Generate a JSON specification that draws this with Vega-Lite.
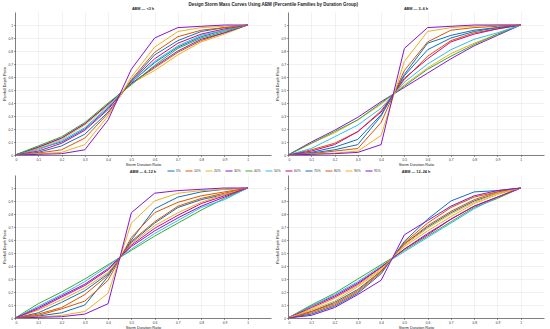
{
  "$schema": "https://vega.github.io/schema/vega-lite/v6.json",
  "background": "white",
  "padding": {"left": 2, "top": 1, "right": 2, "bottom": 1},
  "title": {"text": "Design Storm Mass Curves Using ABM (Percentile Families by Duration Group)", "fontSize": 4.5, "fontWeight": "bold", "font": "Liberation Sans", "anchor": "middle", "offset": 1, "color": "#222"},
  "config": {
    "font": "Liberation Sans",
    "view": {"stroke": null},
    "axis": {"labelFontSize": 3.3, "titleFontSize": 3.8, "titleFontWeight": "normal", "gridColor": "#e8e8e8", "gridWidth": 0.6, "domainColor": "#333", "domainWidth": 0.6, "tickColor": "#333", "tickSize": 1.5, "tickWidth": 0.5, "labelPadding": 1, "titlePadding": 1.5, "labelColor": "#333", "titleColor": "#222"}
  },
  "data": {"values": [
{"g":"ABM — <3 h","p":"5%","x":0,"y":0},{"g":"ABM — <3 h","p":"5%","x":0.1,"y":0.05},{"g":"ABM — <3 h","p":"5%","x":0.2,"y":0.10},{"g":"ABM — <3 h","p":"5%","x":0.3,"y":0.20},{"g":"ABM — <3 h","p":"5%","x":0.4,"y":0.36},{"g":"ABM — <3 h","p":"5%","x":0.5,"y":0.56},{"g":"ABM — <3 h","p":"5%","x":0.6,"y":0.71},{"g":"ABM — <3 h","p":"5%","x":0.7,"y":0.83},{"g":"ABM — <3 h","p":"5%","x":0.8,"y":0.91},{"g":"ABM — <3 h","p":"5%","x":0.9,"y":0.96},{"g":"ABM — <3 h","p":"5%","x":1,"y":1},
{"g":"ABM — <3 h","p":"10%","x":0,"y":0},{"g":"ABM — <3 h","p":"10%","x":0.1,"y":0.06},{"g":"ABM — <3 h","p":"10%","x":0.2,"y":0.13},{"g":"ABM — <3 h","p":"10%","x":0.3,"y":0.24},{"g":"ABM — <3 h","p":"10%","x":0.4,"y":0.39},{"g":"ABM — <3 h","p":"10%","x":0.5,"y":0.55},{"g":"ABM — <3 h","p":"10%","x":0.6,"y":0.67},{"g":"ABM — <3 h","p":"10%","x":0.7,"y":0.79},{"g":"ABM — <3 h","p":"10%","x":0.8,"y":0.88},{"g":"ABM — <3 h","p":"10%","x":0.9,"y":0.94},{"g":"ABM — <3 h","p":"10%","x":1,"y":1},
{"g":"ABM — <3 h","p":"20%","x":0,"y":0},{"g":"ABM — <3 h","p":"20%","x":0.1,"y":0.05},{"g":"ABM — <3 h","p":"20%","x":0.2,"y":0.12},{"g":"ABM — <3 h","p":"20%","x":0.3,"y":0.23},{"g":"ABM — <3 h","p":"20%","x":0.4,"y":0.38},{"g":"ABM — <3 h","p":"20%","x":0.5,"y":0.55},{"g":"ABM — <3 h","p":"20%","x":0.6,"y":0.65},{"g":"ABM — <3 h","p":"20%","x":0.7,"y":0.77},{"g":"ABM — <3 h","p":"20%","x":0.8,"y":0.87},{"g":"ABM — <3 h","p":"20%","x":0.9,"y":0.93},{"g":"ABM — <3 h","p":"20%","x":1,"y":1},
{"g":"ABM — <3 h","p":"30%","x":0,"y":0},{"g":"ABM — <3 h","p":"30%","x":0.1,"y":0.06},{"g":"ABM — <3 h","p":"30%","x":0.2,"y":0.13},{"g":"ABM — <3 h","p":"30%","x":0.3,"y":0.24},{"g":"ABM — <3 h","p":"30%","x":0.4,"y":0.39},{"g":"ABM — <3 h","p":"30%","x":0.5,"y":0.55},{"g":"ABM — <3 h","p":"30%","x":0.6,"y":0.68},{"g":"ABM — <3 h","p":"30%","x":0.7,"y":0.80},{"g":"ABM — <3 h","p":"30%","x":0.8,"y":0.89},{"g":"ABM — <3 h","p":"30%","x":0.9,"y":0.94},{"g":"ABM — <3 h","p":"30%","x":1,"y":1},
{"g":"ABM — <3 h","p":"40%","x":0,"y":0},{"g":"ABM — <3 h","p":"40%","x":0.1,"y":0.07},{"g":"ABM — <3 h","p":"40%","x":0.2,"y":0.14},{"g":"ABM — <3 h","p":"40%","x":0.3,"y":0.25},{"g":"ABM — <3 h","p":"40%","x":0.4,"y":0.40},{"g":"ABM — <3 h","p":"40%","x":0.5,"y":0.54},{"g":"ABM — <3 h","p":"40%","x":0.6,"y":0.69},{"g":"ABM — <3 h","p":"40%","x":0.7,"y":0.82},{"g":"ABM — <3 h","p":"40%","x":0.8,"y":0.90},{"g":"ABM — <3 h","p":"40%","x":0.9,"y":0.95},{"g":"ABM — <3 h","p":"40%","x":1,"y":1},
{"g":"ABM — <3 h","p":"50%","x":0,"y":0},{"g":"ABM — <3 h","p":"50%","x":0.1,"y":0.04},{"g":"ABM — <3 h","p":"50%","x":0.2,"y":0.11},{"g":"ABM — <3 h","p":"50%","x":0.3,"y":0.21},{"g":"ABM — <3 h","p":"50%","x":0.4,"y":0.37},{"g":"ABM — <3 h","p":"50%","x":0.5,"y":0.56},{"g":"ABM — <3 h","p":"50%","x":0.6,"y":0.72},{"g":"ABM — <3 h","p":"50%","x":0.7,"y":0.84},{"g":"ABM — <3 h","p":"50%","x":0.8,"y":0.92},{"g":"ABM — <3 h","p":"50%","x":0.9,"y":0.96},{"g":"ABM — <3 h","p":"50%","x":1,"y":1},
{"g":"ABM — <3 h","p":"60%","x":0,"y":0},{"g":"ABM — <3 h","p":"60%","x":0.1,"y":0.03},{"g":"ABM — <3 h","p":"60%","x":0.2,"y":0.09},{"g":"ABM — <3 h","p":"60%","x":0.3,"y":0.19},{"g":"ABM — <3 h","p":"60%","x":0.4,"y":0.35},{"g":"ABM — <3 h","p":"60%","x":0.5,"y":0.57},{"g":"ABM — <3 h","p":"60%","x":0.6,"y":0.74},{"g":"ABM — <3 h","p":"60%","x":0.7,"y":0.86},{"g":"ABM — <3 h","p":"60%","x":0.8,"y":0.93},{"g":"ABM — <3 h","p":"60%","x":0.9,"y":0.97},{"g":"ABM — <3 h","p":"60%","x":1,"y":1},
{"g":"ABM — <3 h","p":"70%","x":0,"y":0},{"g":"ABM — <3 h","p":"70%","x":0.1,"y":0.02},{"g":"ABM — <3 h","p":"70%","x":0.2,"y":0.07},{"g":"ABM — <3 h","p":"70%","x":0.3,"y":0.16},{"g":"ABM — <3 h","p":"70%","x":0.4,"y":0.33},{"g":"ABM — <3 h","p":"70%","x":0.5,"y":0.57},{"g":"ABM — <3 h","p":"70%","x":0.6,"y":0.77},{"g":"ABM — <3 h","p":"70%","x":0.7,"y":0.88},{"g":"ABM — <3 h","p":"70%","x":0.8,"y":0.95},{"g":"ABM — <3 h","p":"70%","x":0.9,"y":0.98},{"g":"ABM — <3 h","p":"70%","x":1,"y":1},
{"g":"ABM — <3 h","p":"80%","x":0,"y":0},{"g":"ABM — <3 h","p":"80%","x":0.1,"y":0.015},{"g":"ABM — <3 h","p":"80%","x":0.2,"y":0.04},{"g":"ABM — <3 h","p":"80%","x":0.3,"y":0.13},{"g":"ABM — <3 h","p":"80%","x":0.4,"y":0.32},{"g":"ABM — <3 h","p":"80%","x":0.5,"y":0.58},{"g":"ABM — <3 h","p":"80%","x":0.6,"y":0.79},{"g":"ABM — <3 h","p":"80%","x":0.7,"y":0.91},{"g":"ABM — <3 h","p":"80%","x":0.8,"y":0.96},{"g":"ABM — <3 h","p":"80%","x":0.9,"y":0.98},{"g":"ABM — <3 h","p":"80%","x":1,"y":1},
{"g":"ABM — <3 h","p":"90%","x":0,"y":0},{"g":"ABM — <3 h","p":"90%","x":0.1,"y":0.01},{"g":"ABM — <3 h","p":"90%","x":0.2,"y":0.02},{"g":"ABM — <3 h","p":"90%","x":0.3,"y":0.08},{"g":"ABM — <3 h","p":"90%","x":0.4,"y":0.30},{"g":"ABM — <3 h","p":"90%","x":0.5,"y":0.60},{"g":"ABM — <3 h","p":"90%","x":0.6,"y":0.83},{"g":"ABM — <3 h","p":"90%","x":0.7,"y":0.95},{"g":"ABM — <3 h","p":"90%","x":0.8,"y":0.98},{"g":"ABM — <3 h","p":"90%","x":0.9,"y":0.99},{"g":"ABM — <3 h","p":"90%","x":1,"y":1},
{"g":"ABM — <3 h","p":"95%","x":0,"y":0},{"g":"ABM — <3 h","p":"95%","x":0.1,"y":0.005},{"g":"ABM — <3 h","p":"95%","x":0.2,"y":0.01},{"g":"ABM — <3 h","p":"95%","x":0.3,"y":0.04},{"g":"ABM — <3 h","p":"95%","x":0.4,"y":0.27},{"g":"ABM — <3 h","p":"95%","x":0.5,"y":0.66},{"g":"ABM — <3 h","p":"95%","x":0.6,"y":0.90},{"g":"ABM — <3 h","p":"95%","x":0.7,"y":0.98},{"g":"ABM — <3 h","p":"95%","x":0.8,"y":0.99},{"g":"ABM — <3 h","p":"95%","x":0.9,"y":1},{"g":"ABM — <3 h","p":"95%","x":1,"y":1},

{"g":"ABM — 3–6 h","p":"5%","x":0,"y":0},{"g":"ABM — 3–6 h","p":"5%","x":0.1,"y":0.02},{"g":"ABM — 3–6 h","p":"5%","x":0.2,"y":0.06},{"g":"ABM — 3–6 h","p":"5%","x":0.3,"y":0.12},{"g":"ABM — 3–6 h","p":"5%","x":0.4,"y":0.31},{"g":"ABM — 3–6 h","p":"5%","x":0.5,"y":0.61},{"g":"ABM — 3–6 h","p":"5%","x":0.6,"y":0.81},{"g":"ABM — 3–6 h","p":"5%","x":0.7,"y":0.90},{"g":"ABM — 3–6 h","p":"5%","x":0.8,"y":0.95},{"g":"ABM — 3–6 h","p":"5%","x":0.9,"y":0.98},{"g":"ABM — 3–6 h","p":"5%","x":1,"y":1},
{"g":"ABM — 3–6 h","p":"10%","x":0,"y":0},{"g":"ABM — 3–6 h","p":"10%","x":0.1,"y":0.04},{"g":"ABM — 3–6 h","p":"10%","x":0.2,"y":0.09},{"g":"ABM — 3–6 h","p":"10%","x":0.3,"y":0.18},{"g":"ABM — 3–6 h","p":"10%","x":0.4,"y":0.34},{"g":"ABM — 3–6 h","p":"10%","x":0.5,"y":0.58},{"g":"ABM — 3–6 h","p":"10%","x":0.6,"y":0.76},{"g":"ABM — 3–6 h","p":"10%","x":0.7,"y":0.88},{"g":"ABM — 3–6 h","p":"10%","x":0.8,"y":0.94},{"g":"ABM — 3–6 h","p":"10%","x":0.9,"y":0.97},{"g":"ABM — 3–6 h","p":"10%","x":1,"y":1},
{"g":"ABM — 3–6 h","p":"20%","x":0,"y":0},{"g":"ABM — 3–6 h","p":"20%","x":0.1,"y":0.09},{"g":"ABM — 3–6 h","p":"20%","x":0.2,"y":0.17},{"g":"ABM — 3–6 h","p":"20%","x":0.3,"y":0.27},{"g":"ABM — 3–6 h","p":"20%","x":0.4,"y":0.39},{"g":"ABM — 3–6 h","p":"20%","x":0.5,"y":0.54},{"g":"ABM — 3–6 h","p":"20%","x":0.6,"y":0.67},{"g":"ABM — 3–6 h","p":"20%","x":0.7,"y":0.78},{"g":"ABM — 3–6 h","p":"20%","x":0.8,"y":0.86},{"g":"ABM — 3–6 h","p":"20%","x":0.9,"y":0.93},{"g":"ABM — 3–6 h","p":"20%","x":1,"y":1},
{"g":"ABM — 3–6 h","p":"30%","x":0,"y":0},{"g":"ABM — 3–6 h","p":"30%","x":0.1,"y":0.10},{"g":"ABM — 3–6 h","p":"30%","x":0.2,"y":0.19},{"g":"ABM — 3–6 h","p":"30%","x":0.3,"y":0.29},{"g":"ABM — 3–6 h","p":"30%","x":0.4,"y":0.41},{"g":"ABM — 3–6 h","p":"30%","x":0.5,"y":0.52},{"g":"ABM — 3–6 h","p":"30%","x":0.6,"y":0.63},{"g":"ABM — 3–6 h","p":"30%","x":0.7,"y":0.74},{"g":"ABM — 3–6 h","p":"30%","x":0.8,"y":0.84},{"g":"ABM — 3–6 h","p":"30%","x":0.9,"y":0.92},{"g":"ABM — 3–6 h","p":"30%","x":1,"y":1},
{"g":"ABM — 3–6 h","p":"40%","x":0,"y":0},{"g":"ABM — 3–6 h","p":"40%","x":0.1,"y":0.09},{"g":"ABM — 3–6 h","p":"40%","x":0.2,"y":0.18},{"g":"ABM — 3–6 h","p":"40%","x":0.3,"y":0.27},{"g":"ABM — 3–6 h","p":"40%","x":0.4,"y":0.40},{"g":"ABM — 3–6 h","p":"40%","x":0.5,"y":0.53},{"g":"ABM — 3–6 h","p":"40%","x":0.6,"y":0.66},{"g":"ABM — 3–6 h","p":"40%","x":0.7,"y":0.76},{"g":"ABM — 3–6 h","p":"40%","x":0.8,"y":0.85},{"g":"ABM — 3–6 h","p":"40%","x":0.9,"y":0.93},{"g":"ABM — 3–6 h","p":"40%","x":1,"y":1},
{"g":"ABM — 3–6 h","p":"50%","x":0,"y":0},{"g":"ABM — 3–6 h","p":"50%","x":0.1,"y":0.05},{"g":"ABM — 3–6 h","p":"50%","x":0.2,"y":0.14},{"g":"ABM — 3–6 h","p":"50%","x":0.3,"y":0.23},{"g":"ABM — 3–6 h","p":"50%","x":0.4,"y":0.36},{"g":"ABM — 3–6 h","p":"50%","x":0.5,"y":0.56},{"g":"ABM — 3–6 h","p":"50%","x":0.6,"y":0.70},{"g":"ABM — 3–6 h","p":"50%","x":0.7,"y":0.81},{"g":"ABM — 3–6 h","p":"50%","x":0.8,"y":0.89},{"g":"ABM — 3–6 h","p":"50%","x":0.9,"y":0.94},{"g":"ABM — 3–6 h","p":"50%","x":1,"y":1},
{"g":"ABM — 3–6 h","p":"60%","x":0,"y":0},{"g":"ABM — 3–6 h","p":"60%","x":0.1,"y":0.03},{"g":"ABM — 3–6 h","p":"60%","x":0.2,"y":0.08},{"g":"ABM — 3–6 h","p":"60%","x":0.3,"y":0.18},{"g":"ABM — 3–6 h","p":"60%","x":0.4,"y":0.33},{"g":"ABM — 3–6 h","p":"60%","x":0.5,"y":0.59},{"g":"ABM — 3–6 h","p":"60%","x":0.6,"y":0.74},{"g":"ABM — 3–6 h","p":"60%","x":0.7,"y":0.87},{"g":"ABM — 3–6 h","p":"60%","x":0.8,"y":0.93},{"g":"ABM — 3–6 h","p":"60%","x":0.9,"y":0.97},{"g":"ABM — 3–6 h","p":"60%","x":1,"y":1},
{"g":"ABM — 3–6 h","p":"70%","x":0,"y":0},{"g":"ABM — 3–6 h","p":"70%","x":0.1,"y":0.015},{"g":"ABM — 3–6 h","p":"70%","x":0.2,"y":0.04},{"g":"ABM — 3–6 h","p":"70%","x":0.3,"y":0.08},{"g":"ABM — 3–6 h","p":"70%","x":0.4,"y":0.30},{"g":"ABM — 3–6 h","p":"70%","x":0.5,"y":0.62},{"g":"ABM — 3–6 h","p":"70%","x":0.6,"y":0.86},{"g":"ABM — 3–6 h","p":"70%","x":0.7,"y":0.92},{"g":"ABM — 3–6 h","p":"70%","x":0.8,"y":0.96},{"g":"ABM — 3–6 h","p":"70%","x":0.9,"y":0.98},{"g":"ABM — 3–6 h","p":"70%","x":1,"y":1},
{"g":"ABM — 3–6 h","p":"80%","x":0,"y":0},{"g":"ABM — 3–6 h","p":"80%","x":0.1,"y":0.01},{"g":"ABM — 3–6 h","p":"80%","x":0.2,"y":0.03},{"g":"ABM — 3–6 h","p":"80%","x":0.3,"y":0.05},{"g":"ABM — 3–6 h","p":"80%","x":0.4,"y":0.25},{"g":"ABM — 3–6 h","p":"80%","x":0.5,"y":0.65},{"g":"ABM — 3–6 h","p":"80%","x":0.6,"y":0.87},{"g":"ABM — 3–6 h","p":"80%","x":0.7,"y":0.96},{"g":"ABM — 3–6 h","p":"80%","x":0.8,"y":0.98},{"g":"ABM — 3–6 h","p":"80%","x":0.9,"y":0.99},{"g":"ABM — 3–6 h","p":"80%","x":1,"y":1},
{"g":"ABM — 3–6 h","p":"90%","x":0,"y":0},{"g":"ABM — 3–6 h","p":"90%","x":0.1,"y":0.008},{"g":"ABM — 3–6 h","p":"90%","x":0.2,"y":0.015},{"g":"ABM — 3–6 h","p":"90%","x":0.3,"y":0.03},{"g":"ABM — 3–6 h","p":"90%","x":0.4,"y":0.15},{"g":"ABM — 3–6 h","p":"90%","x":0.5,"y":0.72},{"g":"ABM — 3–6 h","p":"90%","x":0.6,"y":0.95},{"g":"ABM — 3–6 h","p":"90%","x":0.7,"y":0.98},{"g":"ABM — 3–6 h","p":"90%","x":0.8,"y":0.99},{"g":"ABM — 3–6 h","p":"90%","x":0.9,"y":1},{"g":"ABM — 3–6 h","p":"90%","x":1,"y":1},
{"g":"ABM — 3–6 h","p":"95%","x":0,"y":0},{"g":"ABM — 3–6 h","p":"95%","x":0.1,"y":0.005},{"g":"ABM — 3–6 h","p":"95%","x":0.2,"y":0.01},{"g":"ABM — 3–6 h","p":"95%","x":0.3,"y":0.02},{"g":"ABM — 3–6 h","p":"95%","x":0.4,"y":0.08},{"g":"ABM — 3–6 h","p":"95%","x":0.5,"y":0.82},{"g":"ABM — 3–6 h","p":"95%","x":0.6,"y":0.98},{"g":"ABM — 3–6 h","p":"95%","x":0.7,"y":0.99},{"g":"ABM — 3–6 h","p":"95%","x":0.8,"y":1},{"g":"ABM — 3–6 h","p":"95%","x":0.9,"y":1},{"g":"ABM — 3–6 h","p":"95%","x":1,"y":1},

{"g":"ABM — 6–12 h","p":"5%","x":0,"y":0},{"g":"ABM — 6–12 h","p":"5%","x":0.1,"y":0.04},{"g":"ABM — 6–12 h","p":"5%","x":0.2,"y":0.12},{"g":"ABM — 6–12 h","p":"5%","x":0.3,"y":0.21},{"g":"ABM — 6–12 h","p":"5%","x":0.4,"y":0.34},{"g":"ABM — 6–12 h","p":"5%","x":0.5,"y":0.58},{"g":"ABM — 6–12 h","p":"5%","x":0.6,"y":0.73},{"g":"ABM — 6–12 h","p":"5%","x":0.7,"y":0.85},{"g":"ABM — 6–12 h","p":"5%","x":0.8,"y":0.91},{"g":"ABM — 6–12 h","p":"5%","x":0.9,"y":0.95},{"g":"ABM — 6–12 h","p":"5%","x":1,"y":1},
{"g":"ABM — 6–12 h","p":"10%","x":0,"y":0},{"g":"ABM — 6–12 h","p":"10%","x":0.1,"y":0.03},{"g":"ABM — 6–12 h","p":"10%","x":0.2,"y":0.08},{"g":"ABM — 6–12 h","p":"10%","x":0.3,"y":0.18},{"g":"ABM — 6–12 h","p":"10%","x":0.4,"y":0.33},{"g":"ABM — 6–12 h","p":"10%","x":0.5,"y":0.59},{"g":"ABM — 6–12 h","p":"10%","x":0.6,"y":0.74},{"g":"ABM — 6–12 h","p":"10%","x":0.7,"y":0.86},{"g":"ABM — 6–12 h","p":"10%","x":0.8,"y":0.92},{"g":"ABM — 6–12 h","p":"10%","x":0.9,"y":0.96},{"g":"ABM — 6–12 h","p":"10%","x":1,"y":1},
{"g":"ABM — 6–12 h","p":"20%","x":0,"y":0},{"g":"ABM — 6–12 h","p":"20%","x":0.1,"y":0.06},{"g":"ABM — 6–12 h","p":"20%","x":0.2,"y":0.14},{"g":"ABM — 6–12 h","p":"20%","x":0.3,"y":0.23},{"g":"ABM — 6–12 h","p":"20%","x":0.4,"y":0.35},{"g":"ABM — 6–12 h","p":"20%","x":0.5,"y":0.57},{"g":"ABM — 6–12 h","p":"20%","x":0.6,"y":0.71},{"g":"ABM — 6–12 h","p":"20%","x":0.7,"y":0.81},{"g":"ABM — 6–12 h","p":"20%","x":0.8,"y":0.89},{"g":"ABM — 6–12 h","p":"20%","x":0.9,"y":0.95},{"g":"ABM — 6–12 h","p":"20%","x":1,"y":1},
{"g":"ABM — 6–12 h","p":"30%","x":0,"y":0},{"g":"ABM — 6–12 h","p":"30%","x":0.1,"y":0.08},{"g":"ABM — 6–12 h","p":"30%","x":0.2,"y":0.17},{"g":"ABM — 6–12 h","p":"30%","x":0.3,"y":0.26},{"g":"ABM — 6–12 h","p":"30%","x":0.4,"y":0.38},{"g":"ABM — 6–12 h","p":"30%","x":0.5,"y":0.55},{"g":"ABM — 6–12 h","p":"30%","x":0.6,"y":0.67},{"g":"ABM — 6–12 h","p":"30%","x":0.7,"y":0.77},{"g":"ABM — 6–12 h","p":"30%","x":0.8,"y":0.86},{"g":"ABM — 6–12 h","p":"30%","x":0.9,"y":0.93},{"g":"ABM — 6–12 h","p":"30%","x":1,"y":1},
{"g":"ABM — 6–12 h","p":"40%","x":0,"y":0},{"g":"ABM — 6–12 h","p":"40%","x":0.1,"y":0.11},{"g":"ABM — 6–12 h","p":"40%","x":0.2,"y":0.20},{"g":"ABM — 6–12 h","p":"40%","x":0.3,"y":0.30},{"g":"ABM — 6–12 h","p":"40%","x":0.4,"y":0.41},{"g":"ABM — 6–12 h","p":"40%","x":0.5,"y":0.52},{"g":"ABM — 6–12 h","p":"40%","x":0.6,"y":0.63},{"g":"ABM — 6–12 h","p":"40%","x":0.7,"y":0.73},{"g":"ABM — 6–12 h","p":"40%","x":0.8,"y":0.83},{"g":"ABM — 6–12 h","p":"40%","x":0.9,"y":0.92},{"g":"ABM — 6–12 h","p":"40%","x":1,"y":1},
{"g":"ABM — 6–12 h","p":"50%","x":0,"y":0},{"g":"ABM — 6–12 h","p":"50%","x":0.1,"y":0.09},{"g":"ABM — 6–12 h","p":"50%","x":0.2,"y":0.18},{"g":"ABM — 6–12 h","p":"50%","x":0.3,"y":0.28},{"g":"ABM — 6–12 h","p":"50%","x":0.4,"y":0.40},{"g":"ABM — 6–12 h","p":"50%","x":0.5,"y":0.53},{"g":"ABM — 6–12 h","p":"50%","x":0.6,"y":0.65},{"g":"ABM — 6–12 h","p":"50%","x":0.7,"y":0.75},{"g":"ABM — 6–12 h","p":"50%","x":0.8,"y":0.85},{"g":"ABM — 6–12 h","p":"50%","x":0.9,"y":0.91},{"g":"ABM — 6–12 h","p":"50%","x":1,"y":1},
{"g":"ABM — 6–12 h","p":"60%","x":0,"y":0},{"g":"ABM — 6–12 h","p":"60%","x":0.1,"y":0.07},{"g":"ABM — 6–12 h","p":"60%","x":0.2,"y":0.16},{"g":"ABM — 6–12 h","p":"60%","x":0.3,"y":0.25},{"g":"ABM — 6–12 h","p":"60%","x":0.4,"y":0.37},{"g":"ABM — 6–12 h","p":"60%","x":0.5,"y":0.56},{"g":"ABM — 6–12 h","p":"60%","x":0.6,"y":0.69},{"g":"ABM — 6–12 h","p":"60%","x":0.7,"y":0.79},{"g":"ABM — 6–12 h","p":"60%","x":0.8,"y":0.88},{"g":"ABM — 6–12 h","p":"60%","x":0.9,"y":0.94},{"g":"ABM — 6–12 h","p":"60%","x":1,"y":1},
{"g":"ABM — 6–12 h","p":"70%","x":0,"y":0},{"g":"ABM — 6–12 h","p":"70%","x":0.1,"y":0.015},{"g":"ABM — 6–12 h","p":"70%","x":0.2,"y":0.04},{"g":"ABM — 6–12 h","p":"70%","x":0.3,"y":0.10},{"g":"ABM — 6–12 h","p":"70%","x":0.4,"y":0.32},{"g":"ABM — 6–12 h","p":"70%","x":0.5,"y":0.60},{"g":"ABM — 6–12 h","p":"70%","x":0.6,"y":0.84},{"g":"ABM — 6–12 h","p":"70%","x":0.7,"y":0.93},{"g":"ABM — 6–12 h","p":"70%","x":0.8,"y":0.97},{"g":"ABM — 6–12 h","p":"70%","x":0.9,"y":0.99},{"g":"ABM — 6–12 h","p":"70%","x":1,"y":1},
{"g":"ABM — 6–12 h","p":"80%","x":0,"y":0},{"g":"ABM — 6–12 h","p":"80%","x":0.1,"y":0.02},{"g":"ABM — 6–12 h","p":"80%","x":0.2,"y":0.07},{"g":"ABM — 6–12 h","p":"80%","x":0.3,"y":0.13},{"g":"ABM — 6–12 h","p":"80%","x":0.4,"y":0.29},{"g":"ABM — 6–12 h","p":"80%","x":0.5,"y":0.62},{"g":"ABM — 6–12 h","p":"80%","x":0.6,"y":0.81},{"g":"ABM — 6–12 h","p":"80%","x":0.7,"y":0.89},{"g":"ABM — 6–12 h","p":"80%","x":0.8,"y":0.94},{"g":"ABM — 6–12 h","p":"80%","x":0.9,"y":0.97},{"g":"ABM — 6–12 h","p":"80%","x":1,"y":1},
{"g":"ABM — 6–12 h","p":"90%","x":0,"y":0},{"g":"ABM — 6–12 h","p":"90%","x":0.1,"y":0.008},{"g":"ABM — 6–12 h","p":"90%","x":0.2,"y":0.02},{"g":"ABM — 6–12 h","p":"90%","x":0.3,"y":0.05},{"g":"ABM — 6–12 h","p":"90%","x":0.4,"y":0.19},{"g":"ABM — 6–12 h","p":"90%","x":0.5,"y":0.73},{"g":"ABM — 6–12 h","p":"90%","x":0.6,"y":0.90},{"g":"ABM — 6–12 h","p":"90%","x":0.7,"y":0.96},{"g":"ABM — 6–12 h","p":"90%","x":0.8,"y":0.98},{"g":"ABM — 6–12 h","p":"90%","x":0.9,"y":0.99},{"g":"ABM — 6–12 h","p":"90%","x":1,"y":1},
{"g":"ABM — 6–12 h","p":"95%","x":0,"y":0},{"g":"ABM — 6–12 h","p":"95%","x":0.1,"y":0.005},{"g":"ABM — 6–12 h","p":"95%","x":0.2,"y":0.01},{"g":"ABM — 6–12 h","p":"95%","x":0.3,"y":0.03},{"g":"ABM — 6–12 h","p":"95%","x":0.4,"y":0.11},{"g":"ABM — 6–12 h","p":"95%","x":0.5,"y":0.81},{"g":"ABM — 6–12 h","p":"95%","x":0.6,"y":0.96},{"g":"ABM — 6–12 h","p":"95%","x":0.7,"y":0.98},{"g":"ABM — 6–12 h","p":"95%","x":0.8,"y":0.99},{"g":"ABM — 6–12 h","p":"95%","x":0.9,"y":1},{"g":"ABM — 6–12 h","p":"95%","x":1,"y":1},

{"g":"ABM — 12–24 h","p":"5%","x":0,"y":0},{"g":"ABM — 12–24 h","p":"5%","x":0.1,"y":0.05},{"g":"ABM — 12–24 h","p":"5%","x":0.2,"y":0.12},{"g":"ABM — 12–24 h","p":"5%","x":0.3,"y":0.22},{"g":"ABM — 12–24 h","p":"5%","x":0.4,"y":0.36},{"g":"ABM — 12–24 h","p":"5%","x":0.5,"y":0.57},{"g":"ABM — 12–24 h","p":"5%","x":0.6,"y":0.70},{"g":"ABM — 12–24 h","p":"5%","x":0.7,"y":0.81},{"g":"ABM — 12–24 h","p":"5%","x":0.8,"y":0.90},{"g":"ABM — 12–24 h","p":"5%","x":0.9,"y":0.96},{"g":"ABM — 12–24 h","p":"5%","x":1,"y":1},
{"g":"ABM — 12–24 h","p":"10%","x":0,"y":0},{"g":"ABM — 12–24 h","p":"10%","x":0.1,"y":0.04},{"g":"ABM — 12–24 h","p":"10%","x":0.2,"y":0.10},{"g":"ABM — 12–24 h","p":"10%","x":0.3,"y":0.20},{"g":"ABM — 12–24 h","p":"10%","x":0.4,"y":0.35},{"g":"ABM — 12–24 h","p":"10%","x":0.5,"y":0.58},{"g":"ABM — 12–24 h","p":"10%","x":0.6,"y":0.73},{"g":"ABM — 12–24 h","p":"10%","x":0.7,"y":0.85},{"g":"ABM — 12–24 h","p":"10%","x":0.8,"y":0.93},{"g":"ABM — 12–24 h","p":"10%","x":0.9,"y":0.97},{"g":"ABM — 12–24 h","p":"10%","x":1,"y":1},
{"g":"ABM — 12–24 h","p":"20%","x":0,"y":0},{"g":"ABM — 12–24 h","p":"20%","x":0.1,"y":0.07},{"g":"ABM — 12–24 h","p":"20%","x":0.2,"y":0.15},{"g":"ABM — 12–24 h","p":"20%","x":0.3,"y":0.25},{"g":"ABM — 12–24 h","p":"20%","x":0.4,"y":0.38},{"g":"ABM — 12–24 h","p":"20%","x":0.5,"y":0.55},{"g":"ABM — 12–24 h","p":"20%","x":0.6,"y":0.67},{"g":"ABM — 12–24 h","p":"20%","x":0.7,"y":0.78},{"g":"ABM — 12–24 h","p":"20%","x":0.8,"y":0.88},{"g":"ABM — 12–24 h","p":"20%","x":0.9,"y":0.95},{"g":"ABM — 12–24 h","p":"20%","x":1,"y":1},
{"g":"ABM — 12–24 h","p":"30%","x":0,"y":0},{"g":"ABM — 12–24 h","p":"30%","x":0.1,"y":0.09},{"g":"ABM — 12–24 h","p":"30%","x":0.2,"y":0.17},{"g":"ABM — 12–24 h","p":"30%","x":0.3,"y":0.27},{"g":"ABM — 12–24 h","p":"30%","x":0.4,"y":0.39},{"g":"ABM — 12–24 h","p":"30%","x":0.5,"y":0.53},{"g":"ABM — 12–24 h","p":"30%","x":0.6,"y":0.65},{"g":"ABM — 12–24 h","p":"30%","x":0.7,"y":0.76},{"g":"ABM — 12–24 h","p":"30%","x":0.8,"y":0.86},{"g":"ABM — 12–24 h","p":"30%","x":0.9,"y":0.93},{"g":"ABM — 12–24 h","p":"30%","x":1,"y":1},
{"g":"ABM — 12–24 h","p":"40%","x":0,"y":0},{"g":"ABM — 12–24 h","p":"40%","x":0.1,"y":0.10},{"g":"ABM — 12–24 h","p":"40%","x":0.2,"y":0.19},{"g":"ABM — 12–24 h","p":"40%","x":0.3,"y":0.30},{"g":"ABM — 12–24 h","p":"40%","x":0.4,"y":0.41},{"g":"ABM — 12–24 h","p":"40%","x":0.5,"y":0.52},{"g":"ABM — 12–24 h","p":"40%","x":0.6,"y":0.63},{"g":"ABM — 12–24 h","p":"40%","x":0.7,"y":0.74},{"g":"ABM — 12–24 h","p":"40%","x":0.8,"y":0.85},{"g":"ABM — 12–24 h","p":"40%","x":0.9,"y":0.92},{"g":"ABM — 12–24 h","p":"40%","x":1,"y":1},
{"g":"ABM — 12–24 h","p":"50%","x":0,"y":0},{"g":"ABM — 12–24 h","p":"50%","x":0.1,"y":0.09},{"g":"ABM — 12–24 h","p":"50%","x":0.2,"y":0.18},{"g":"ABM — 12–24 h","p":"50%","x":0.3,"y":0.28},{"g":"ABM — 12–24 h","p":"50%","x":0.4,"y":0.40},{"g":"ABM — 12–24 h","p":"50%","x":0.5,"y":0.51},{"g":"ABM — 12–24 h","p":"50%","x":0.6,"y":0.62},{"g":"ABM — 12–24 h","p":"50%","x":0.7,"y":0.73},{"g":"ABM — 12–24 h","p":"50%","x":0.8,"y":0.84},{"g":"ABM — 12–24 h","p":"50%","x":0.9,"y":0.93},{"g":"ABM — 12–24 h","p":"50%","x":1,"y":1},
{"g":"ABM — 12–24 h","p":"60%","x":0,"y":0},{"g":"ABM — 12–24 h","p":"60%","x":0.1,"y":0.08},{"g":"ABM — 12–24 h","p":"60%","x":0.2,"y":0.16},{"g":"ABM — 12–24 h","p":"60%","x":0.3,"y":0.26},{"g":"ABM — 12–24 h","p":"60%","x":0.4,"y":0.39},{"g":"ABM — 12–24 h","p":"60%","x":0.5,"y":0.53},{"g":"ABM — 12–24 h","p":"60%","x":0.6,"y":0.64},{"g":"ABM — 12–24 h","p":"60%","x":0.7,"y":0.76},{"g":"ABM — 12–24 h","p":"60%","x":0.8,"y":0.86},{"g":"ABM — 12–24 h","p":"60%","x":0.9,"y":0.93},{"g":"ABM — 12–24 h","p":"60%","x":1,"y":1},
{"g":"ABM — 12–24 h","p":"70%","x":0,"y":0},{"g":"ABM — 12–24 h","p":"70%","x":0.1,"y":0.03},{"g":"ABM — 12–24 h","p":"70%","x":0.2,"y":0.09},{"g":"ABM — 12–24 h","p":"70%","x":0.3,"y":0.19},{"g":"ABM — 12–24 h","p":"70%","x":0.4,"y":0.34},{"g":"ABM — 12–24 h","p":"70%","x":0.5,"y":0.59},{"g":"ABM — 12–24 h","p":"70%","x":0.6,"y":0.76},{"g":"ABM — 12–24 h","p":"70%","x":0.7,"y":0.90},{"g":"ABM — 12–24 h","p":"70%","x":0.8,"y":0.97},{"g":"ABM — 12–24 h","p":"70%","x":0.9,"y":0.98},{"g":"ABM — 12–24 h","p":"70%","x":1,"y":1},
{"g":"ABM — 12–24 h","p":"80%","x":0,"y":0},{"g":"ABM — 12–24 h","p":"80%","x":0.1,"y":0.05},{"g":"ABM — 12–24 h","p":"80%","x":0.2,"y":0.11},{"g":"ABM — 12–24 h","p":"80%","x":0.3,"y":0.21},{"g":"ABM — 12–24 h","p":"80%","x":0.4,"y":0.36},{"g":"ABM — 12–24 h","p":"80%","x":0.5,"y":0.57},{"g":"ABM — 12–24 h","p":"80%","x":0.6,"y":0.71},{"g":"ABM — 12–24 h","p":"80%","x":0.7,"y":0.82},{"g":"ABM — 12–24 h","p":"80%","x":0.8,"y":0.91},{"g":"ABM — 12–24 h","p":"80%","x":0.9,"y":0.97},{"g":"ABM — 12–24 h","p":"80%","x":1,"y":1},
{"g":"ABM — 12–24 h","p":"90%","x":0,"y":0},{"g":"ABM — 12–24 h","p":"90%","x":0.1,"y":0.06},{"g":"ABM — 12–24 h","p":"90%","x":0.2,"y":0.13},{"g":"ABM — 12–24 h","p":"90%","x":0.3,"y":0.24},{"g":"ABM — 12–24 h","p":"90%","x":0.4,"y":0.37},{"g":"ABM — 12–24 h","p":"90%","x":0.5,"y":0.56},{"g":"ABM — 12–24 h","p":"90%","x":0.6,"y":0.69},{"g":"ABM — 12–24 h","p":"90%","x":0.7,"y":0.80},{"g":"ABM — 12–24 h","p":"90%","x":0.8,"y":0.89},{"g":"ABM — 12–24 h","p":"90%","x":0.9,"y":0.96},{"g":"ABM — 12–24 h","p":"90%","x":1,"y":1},
{"g":"ABM — 12–24 h","p":"95%","x":0,"y":0},{"g":"ABM — 12–24 h","p":"95%","x":0.1,"y":0.02},{"g":"ABM — 12–24 h","p":"95%","x":0.2,"y":0.08},{"g":"ABM — 12–24 h","p":"95%","x":0.3,"y":0.18},{"g":"ABM — 12–24 h","p":"95%","x":0.4,"y":0.29},{"g":"ABM — 12–24 h","p":"95%","x":0.5,"y":0.64},{"g":"ABM — 12–24 h","p":"95%","x":0.6,"y":0.75},{"g":"ABM — 12–24 h","p":"95%","x":0.7,"y":0.86},{"g":"ABM — 12–24 h","p":"95%","x":0.8,"y":0.94},{"g":"ABM — 12–24 h","p":"95%","x":0.9,"y":0.98},{"g":"ABM — 12–24 h","p":"95%","x":1,"y":1}
  ]},
  "facet": {"field": "g", "type": "nominal", "sort": ["ABM — <3 h", "ABM — 3–6 h", "ABM — 6–12 h", "ABM — 12–24 h"], "header": {"title": null, "labelFontSize": 3.8, "labelFontWeight": "bold", "labelPadding": 1, "labelColor": "#222"}},
  "columns": 2,
  "spacing": {"row": 3, "column": 4},
  "resolve": {"axis": {"x": "independent", "y": "independent"}},
  "spec": {
    "width": 256,
    "height": 143,
    "mark": {"type": "line", "strokeWidth": 1, "clip": true},
    "encoding": {
      "x": {"field": "x", "type": "quantitative", "scale": {"domain": [0, 1.1], "nice": false}, "axis": {"values": [0,0.1,0.2,0.3,0.4,0.5,0.6,0.7,0.8,0.9,1], "format": "~g", "title": "Storm Duration Ratio"}},
      "y": {"field": "y", "type": "quantitative", "scale": {"domain": [0, 1.1], "nice": false}, "axis": {"values": [0,0.1,0.2,0.3,0.4,0.5,0.6,0.7,0.8,0.9,1], "format": "~g", "title": "Rainfall Depth Ratio"}},
      "color": {"field": "p", "type": "nominal", "title": null,
        "scale": {"domain": ["5%","10%","20%","30%","40%","50%","60%","70%","80%","90%","95%"], "range": ["#1071BE","#DD5400","#EDB120","#8516D1","#3BAA32","#2FBEEF","#D1048B","#1071BE","#DD5400","#EDB120","#8516D1"]},
        "legend": {"orient": "none", "legendX": 152, "legendY": 155, "direction": "horizontal", "columns": 11, "symbolType": "stroke", "symbolSize": 49, "symbolStrokeWidth": 1, "labelFontSize": 3.3, "labelColor": "#333", "columnPadding": 2, "labelOffset": 1, "padding": 0}}
    }
  }
}
